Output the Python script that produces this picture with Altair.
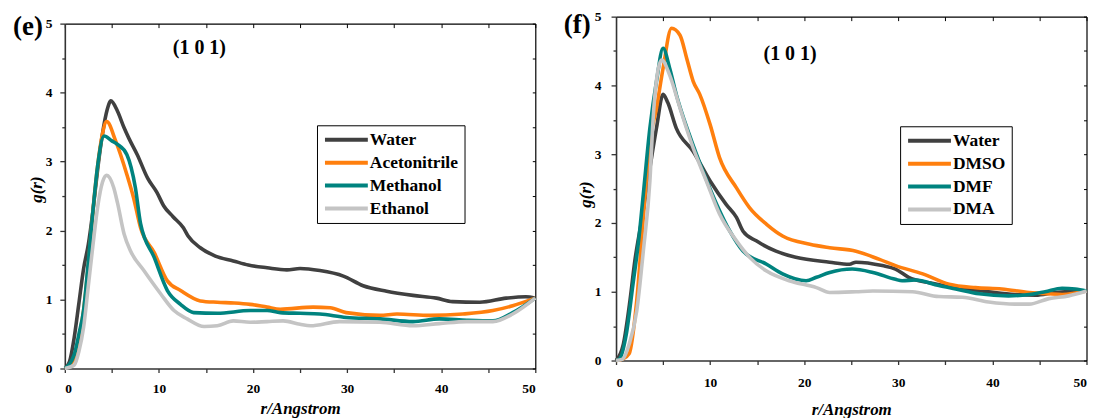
import altair as alt
import pandas as pd

FONT = "Liberation Serif"

# ---------------- left panel (e) ----------------
names_e = ["Water", "Acetonitrile", "Methanol", "Ethanol"]

water_e_r = [0, 0.5, 1, 1.5, 2, 2.5, 3, 3.5, 4, 4.5, 4.9, 5.6, 6.3, 6.8, 7.7, 8.8, 9.8, 10.5,
             11.5, 12.6, 13.1, 14.4, 16, 17.9, 19.5, 21.5, 23.6, 25, 27.1, 29.6, 31.7, 34.2,
             37, 39.5, 41.2, 44.1, 46.9, 49, 50]
water_e_g = [0, 0.1, 0.45, 0.95, 1.45, 1.8, 2.3, 2.9, 3.4, 3.75, 3.88, 3.73, 3.49, 3.34, 3.1,
             2.76, 2.55, 2.36, 2.2, 2.04, 1.92, 1.75, 1.63, 1.56, 1.5, 1.46, 1.43, 1.45, 1.42,
             1.34, 1.2, 1.12, 1.06, 1.02, 0.97, 0.96, 1.02, 1.04, 1.02]

acn_e_r = [0, 1, 1.5, 2, 2.5, 3, 3.5, 4, 4.45, 5.4, 6.6, 7.3, 8.05, 9.5, 10.9, 12.3, 14.4,
           16.2, 18, 19.7, 21.5, 22.9, 26.4, 28.2, 29.9, 33.5, 35.3, 38.8, 42.3, 45.5, 47.6, 50]
acn_e_g = [0, 0.15, 0.45, 0.85, 1.5, 2.3, 2.95, 3.4, 3.58, 3.3, 2.81, 2.48, 2.04, 1.68, 1.27,
           1.13, 0.98, 0.96, 0.95, 0.93, 0.89, 0.86, 0.89, 0.88, 0.81, 0.77, 0.79, 0.77, 0.79,
           0.84, 0.91, 1.02]

meoh_e_r = [0, 1, 1.5, 2, 2.5, 3, 3.5, 4.17, 5, 5.6, 6.6, 7.5, 8.05, 9.5, 10.9, 12.3, 13.7,
            16.2, 19.7, 21.5, 22.9, 25, 27.1, 29.9, 33.5, 37, 39.8, 42.7, 45.5, 47.6, 50]
meoh_e_g = [0, 0.2, 0.5, 0.85, 1.55, 2.3, 2.95, 3.37, 3.3, 3.25, 3.1, 2.62, 2.1, 1.61, 1.13,
            0.93, 0.81, 0.80, 0.84, 0.84, 0.81, 0.80, 0.79, 0.74, 0.72, 0.68, 0.72, 0.70, 0.69,
            0.81, 1.02]

etoh_e_r = [0, 1, 1.5, 2, 2.5, 3, 3.5, 4, 4.45, 5.2, 5.6, 6.3, 7.0, 8.4, 10.2, 11.6, 13, 14.8,
            16.2, 17.9, 19.7, 21.5, 23.2, 25, 26.1, 29.2, 33.5, 37, 39.8, 42.7, 45.5, 47.6, 50]
etoh_e_g = [0, 0.05, 0.25, 0.6, 1.2, 1.8, 2.35, 2.7, 2.8, 2.62, 2.4, 1.95, 1.7, 1.42, 1.08,
            0.84, 0.72, 0.61, 0.62, 0.69, 0.67, 0.68, 0.69, 0.64, 0.62, 0.68, 0.67, 0.62, 0.65,
            0.68, 0.68, 0.79, 1.02]

# ---------------- right panel (f) ----------------
names_f = ["Water", "DMSO", "DMF", "DMA"]

water_f_r = [0, 0.78, 1.48, 2.0, 2.8, 3.6, 4.3, 5.0, 5.5, 6.4, 8.2, 10, 11.7, 12.8, 13.5, 14.9,
             17, 19.1, 22.7, 24.8, 25.5, 28.3, 29.7, 31.1, 33.3, 36.1, 39.6, 42.4, 44.6, 46.7, 50]
water_f_g = [0, 0.24, 0.87, 1.45, 2.1, 2.8, 3.38, 3.87, 3.75, 3.38, 3.04, 2.61, 2.27, 2.08, 1.88,
             1.74, 1.59, 1.5, 1.43, 1.4, 1.43, 1.38, 1.33, 1.21, 1.13, 1.06, 1.0, 0.96, 0.95,
             0.99, 1.01]

dmso_f_r = [0, 0.7, 1.4, 2.2, 2.9, 3.6, 4.3, 5.0, 5.9, 6.8, 7.5, 8.2, 8.9, 10, 11, 12.8, 14.2,
            16, 17.7, 20.6, 22.7, 25.5, 28, 29.7, 32.6, 35.4, 38.2, 41, 43.9, 46, 47.4, 50]
dmso_f_g = [0, 0.02, 0.1, 0.87, 2.08, 3.19, 3.67, 4.25, 4.83, 4.73, 4.4, 4.06, 3.87, 3.43, 2.95,
            2.51, 2.22, 1.98, 1.81, 1.69, 1.64, 1.59, 1.47, 1.38, 1.26, 1.11, 1.06, 1.04, 0.99,
            0.97, 0.96, 1.01]

dmf_f_r = [0, 0.35, 1.1, 1.8, 2.4, 2.9, 3.6, 4.3, 5.0, 5.7, 6.4, 7.8, 9.25, 10.7, 12.1, 13.5,
           16, 17.7, 20.2, 21.3, 22.7, 25.1, 27.3, 29.7, 30.4, 31.8, 34.3, 36.1, 38.6, 41.7,
           43.9, 45.6, 47.4, 48.8, 50]
dmf_f_g = [0, 0.02, 0.39, 1.11, 1.74, 2.42, 3.38, 4.06, 4.54, 4.25, 3.87, 3.28, 2.75, 2.27,
           1.88, 1.59, 1.4, 1.26, 1.16, 1.21, 1.28, 1.33, 1.28, 1.18, 1.16, 1.17, 1.09, 1.04,
           0.97, 0.94, 0.96, 1.0, 1.05, 1.04, 1.01]

dma_f_r = [0, 0.7, 1.4, 2.2, 2.9, 3.6, 3.95, 4.5, 4.85, 5.7, 6.8, 8.2, 9.6, 11, 12.8, 14.2, 16,
           18.4, 21.3, 22.7, 25.5, 27.3, 31.5, 34.3, 36.8, 39.6, 42.4, 43.9, 46, 48.1, 50]
dma_f_g = [0, 0.02, 0.24, 0.72, 1.59, 2.61, 3.53, 4.25, 4.37, 4.15, 3.67, 3.09, 2.61, 2.13,
           1.74, 1.5, 1.3, 1.16, 1.06, 0.99, 1.0, 1.01, 1.0, 0.93, 0.92, 0.85, 0.82, 0.82, 0.9,
           0.94, 1.01]

colors = ["#404040", "#ff7f0e", "#00837f", "#c4c4c4"]
x_ticks = [0, 5, 10, 15, 20, 25, 30, 35, 40, 45, 50]
y_ticks = [0, 0.5, 1, 1.5, 2, 2.5, 3, 3.5, 4, 4.5, 5]


def long_df(names, rs, gs):
    rows = []
    for k, (n, r, g) in enumerate(zip(names, rs, gs)):
        for a, b in zip(r, g):
            rows.append({"r": a, "g": b, "solvent": n, "k": k})
    return pd.DataFrame(rows)


def panel(df, names, height, top, tag, tag_x, tag_y, lab_r, lab_g, leg_x, leg_y,
          xlab_pad, xtitle_y, ylab_pad, ytitle_x, ytitle_y):
    xs = alt.Scale(domain=[0, 50], nice=False, zero=False)
    ys = alt.Scale(domain=[0, 5], nice=False, zero=False, range=[height, top])
    lines = alt.Chart(df).mark_line(strokeWidth=3.6, interpolate="monotone").encode(
        x=alt.X("r:Q", scale=xs, axis=alt.Axis(
            orient="bottom", values=x_ticks, title="r/Angstrom",
            labelExpr="datum.value % 10 == 0 ? datum.label : ''",
            tickSize=4, labelPadding=xlab_pad, titleY=xtitle_y, titleBaseline="middle")),
        y=alt.Y("g:Q", scale=ys, axis=alt.Axis(
            orient="left", values=y_ticks, title="g(r)", format=".0f",
            labelExpr="datum.value % 1 == 0 ? datum.label : ''",
            tickSize={"condition": {"test": "datum.value % 1 === 0", "value": 5}, "value": 3},
            labelPadding=ylab_pad, titleX=ytitle_x, titleY=ytitle_y,
            titleBaseline="middle", titleAlign="center")),
        color=alt.Color("solvent:N", sort=names,
                        scale=alt.Scale(domain=names, range=colors),
                        legend=alt.Legend(
                            title=None, orient="none", legendX=leg_x, legendY=leg_y,
                            symbolType="stroke", symbolSize=1849, symbolStrokeWidth=4,
                            labelFont=FONT, labelFontSize=17.5, labelFontWeight="bold",
                            labelColor="black", labelOffset=0, labelLimit=400,
                            clipHeight=17, rowPadding=5, padding=6,
                            strokeColor="black", fillColor="white", cornerRadius=0)),
        detail="k:O",
    )
    ticks_layer = alt.Chart(df).mark_line(strokeOpacity=0).encode(
        x=alt.X("r:Q", scale=xs, axis=alt.Axis(
            orient="top", values=x_ticks, labels=False, domain=False, title=None,
            tickSize=4, offset=-(top + 4), tickColor="black", tickWidth=1)),
        y=alt.Y("g:Q", scale=ys, axis=alt.Axis(
            orient="right", values=y_ticks, labels=False, domain=False, title=None,
            tickSize=3, offset=-3, tickColor="black", tickWidth=1)),
        detail="k:O",
    )
    border_layer = alt.Chart(df).mark_line(strokeOpacity=0).encode(
        x=alt.X("r:Q", scale=xs, axis=alt.Axis(
            orient="top", labels=False, ticks=False, domain=True, title=None,
            offset=-top, domainColor="black", domainWidth=1.2)),
        y=alt.Y("g:Q", scale=ys, axis=alt.Axis(
            orient="right", labels=False, ticks=False, domain=True, title=None,
            offset=0, domainColor="black", domainWidth=1.2)),
        detail="k:O",
    )
    lab = alt.Chart(pd.DataFrame({"r": [lab_r], "g": [lab_g], "t": ["(1 0 1)"]})).mark_text(
        font=FONT, fontSize=20, fontWeight="bold", color="black").encode(
        x=alt.X("r:Q", scale=xs, axis=None),
        y=alt.Y("g:Q", scale=ys, axis=None),
        text="t:N",
    )
    tagc = alt.Chart(pd.DataFrame({"t": [tag]})).mark_text(
        font=FONT, fontSize=27, fontWeight="bold", color="black").encode(
        x=alt.value(tag_x), y=alt.value(tag_y), text="t:N")
    return alt.layer(lines, ticks_layer, border_layer, lab, tagc).resolve_axis(
        x="independent", y="independent").properties(width=472, height=height)


df_e = long_df(names_e, [water_e_r, acn_e_r, meoh_e_r, etoh_e_r],
               [water_e_g, acn_e_g, meoh_e_g, etoh_e_g])
df_f = long_df(names_f, [water_f_r, dmso_f_r, dmf_f_r, dma_f_r],
               [water_f_g, dmso_f_g, dmf_f_g, dma_f_g])

left = panel(df_e, names_e, 353, 7, "(e)", -37, 10, 14.3, 4.64, 253, 109,
             9, 40, 8, -28.5, 173)
right = panel(df_f, names_f, 345, 0, "(f)", -39, 8, 18.5, 4.46, 285, 110,
              11.5, 49, 10, -30.7, 178)

chart = alt.hconcat(left, right, spacing=20).resolve_scale(
    color="independent", x="independent", y="independent"
).properties(
    padding={"left": 4, "top": 0, "right": -6.5, "bottom": 0}
).configure_view(stroke="transparent").configure_axis(
    grid=False, domainColor="#333333", domainWidth=1.6, tickColor="#333333", tickWidth=1.3,
    labelFont=FONT, labelFontSize=13.5, labelFontWeight="bold", labelColor="black",
    titleFont=FONT, titleFontSize=17, titleFontWeight="bold", titleFontStyle="italic",
    titleColor="black",
)

chart.save("out.html", embed_options={"renderer": "svg", "actions": False})
